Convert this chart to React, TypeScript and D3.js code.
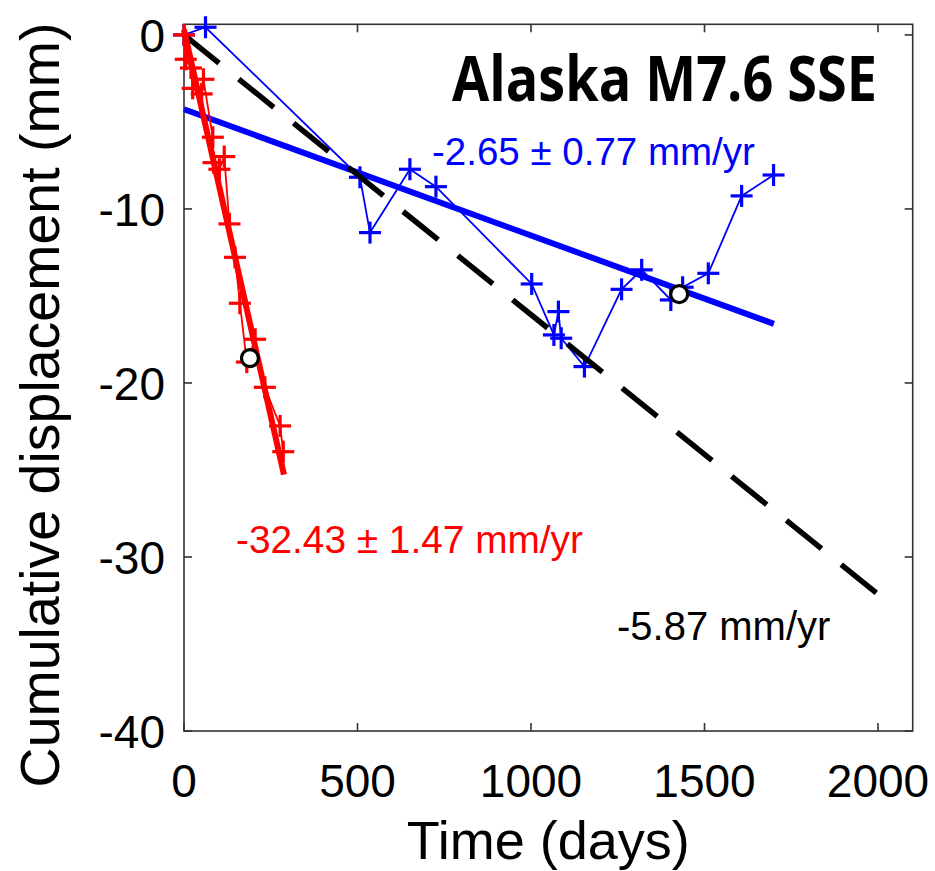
import React from "react";
import * as d3 from "d3";

// ---- data ----
const blueDays = [0, 62, 507, 536, 651, 726, 1002, 1066, 1079, 1087, 1154, 1261, 1319, 1403, 1437, 1511, 1607, 1699];
const blueDisp = [0, 0.44, -8.18, -11.36, -7.72, -8.72, -14.31, -17.24, -15.9, -17.43, -19.06, -14.62, -13.5, -15.23, -14.5, -13.7, -9.25, -8.05];

const redDays = [0, 5, 20, 25, 51, 56, 83, 85, 102, 116, 131, 147, 161, 181, 205, 233, 277, 286];
const redDisp = [0, -1.4, -1.9, -3.07, -3.39, -2.55, -5.88, -7.34, -7.72, -6.99, -10.86, -12.78, -15.42, -18.8, -17.49, -20.25, -22.47, -23.95];

const circleDays = [190, 1427];
const circleDisp = [-18.57, -14.9];

// fits: rate (mm/yr), intercept (mm), time span (days)
const fitNames = ["blue", "red", "black"];
const fitRates = [-2.65, -32.43, -5.87];
const fitIntercepts = [-4.27, 0.3, 0];
const fitEnds = [1700, 288, 1995];

const xTicks = [0, 500, 1000, 1500, 2000];
const yTicks = [0, -10, -20, -30, -40];

const title = "Alaska M7.6 SSE";
const blueLabel = "-2.65 ± 0.77 mm/yr";
const redLabel = "-32.43 ± 1.47 mm/yr";
const blackLabel = "-5.87 mm/yr";

export default function App() {
  const W = 935, H = 871;
  const left = 184, right = 912.7, top = 24.3, bottom = 731;
  const x = d3.scaleLinear().domain([0, 2100]).range([left, right]);
  const y = d3.scaleLinear().domain([-40, 0.61]).range([bottom, top]);

  const line = d3.line<[number, number]>().x(d => x(d[0])).y(d => y(d[1]));
  const blue = blueDays.map((d, i) => [d, blueDisp[i]] as [number, number]);
  const red = redDays.map((d, i) => [d, redDisp[i]] as [number, number]);
  const fitPts = (k: number) =>
    [
      [0, fitIntercepts[k]],
      [fitEnds[k], fitIntercepts[k] + (fitRates[k] / 365.25) * fitEnds[k]],
    ] as [number, number][];
  const fit = (k: number) => line(fitPts(k)) || "";

  // dash pattern so that the dashed line ends on a dash
  const bp = fitPts(2);
  const blackLen = Math.hypot(x(bp[1][0]) - x(bp[0][0]), y(bp[1][1]) - y(bp[0][1]));
  const dashLen = 45;
  const nDash = 12;
  const gapLen = (blackLen - dashLen) / nDash - dashLen;

  const cross = (pts: [number, number][], color: string, key: string) =>
    pts.map((p, i) => {
      const cx = x(p[0]), cy = y(p[1]), s = 11;
      return (
        <g key={key + i} stroke={color} strokeWidth={3.2}>
          <line x1={cx - s} x2={cx + s} y1={cy} y2={cy} />
          <line x1={cx} x2={cx} y1={cy - s} y2={cy + s} />
        </g>
      );
    });

  const axisColor = "#333";
  const font = "'Liberation Sans', Arial, Helvetica, sans-serif";
  const tl = 8;
  const titleScale = 0.88;

  return (
    <svg width={W} height={H} style={{ position: "absolute", left: 0, top: 0, background: "#fff" }}>
      {/* axes box */}
      <rect x={left} y={top} width={right - left} height={bottom - top} fill="none" stroke={axisColor} strokeWidth={1.6} />
      {xTicks.map(t => (
        <g key={"xt" + t} stroke={axisColor} strokeWidth={1.6}>
          <line x1={x(t)} x2={x(t)} y1={bottom} y2={bottom - tl} />
          <line x1={x(t)} x2={x(t)} y1={top} y2={top + tl} />
        </g>
      ))}
      {yTicks.map(t => (
        <g key={"yt" + t} stroke={axisColor} strokeWidth={1.6}>
          <line x1={left} x2={left + tl} y1={y(t)} y2={y(t)} />
          <line x1={right} x2={right - tl} y1={y(t)} y2={y(t)} />
        </g>
      ))}
      {xTicks.map(t => (
        <text key={"xl" + t} x={x(t)} y={797} textAnchor="middle" fontFamily={font} fontSize={46} fill="#000">
          {t}
        </text>
      ))}
      {yTicks.map(t => (
        <text key={"yl" + t} x={165} y={y(t) + 17} textAnchor="end" fontFamily={font} fontSize={46} fill="#000">
          {t}
        </text>
      ))}
      <text x={(left + right) / 2} y={859} textAnchor="middle" fontFamily={font} fontSize={54} fill="#000">
        Time (days)
      </text>
      <text transform={`translate(59,405) rotate(-90)`} textAnchor="middle" fontFamily={font} fontSize={55.5} fill="#000">
        Cumulative displacement (mm)
      </text>

      {/* blue series */}
      <path d={line(blue) || ""} fill="none" stroke="#0000ff" strokeWidth={1.8} />
      {cross(blue, "#0000ff", "b")}
      <path d={fit(0)} fill="none" stroke="#0000ff" strokeWidth={6} />

      {/* black dashed */}
      <path d={fit(2)} fill="none" stroke="#000" strokeWidth={5.5} strokeDasharray={`${dashLen} ${gapLen}`} />

      {/* red series */}
      <path d={line(red) || ""} fill="none" stroke="#ff0000" strokeWidth={1.8} />
      {cross(red, "#ff0000", "r")}
      <path d={fit(1)} fill="none" stroke="#ff0000" strokeWidth={6} />

      {/* circles */}
      {circleDays.map((d, i) => (
        <circle key={"c" + i} cx={x(d)} cy={y(circleDisp[i])} r={8.5} fill="#fff" stroke="#000" strokeWidth={3.2} />
      ))}

      {/* annotations */}
      <g transform={`translate(452,101) scale(${titleScale},1)`}>
        <text x={0} y={0} fontFamily="'Open Sans', sans-serif" fontWeight={700} fontSize={62} textLength={425 / titleScale} lengthAdjust="spacingAndGlyphs" fill="#000">
          {title}
        </text>
      </g>
      <text x={432} y={165} fontFamily={font} fontSize={38.5} fill="#0000ff">{blueLabel}</text>
      <text x={236} y={553} fontFamily={font} fontSize={38.8} fill="#ff0000">{redLabel}</text>
      <text x={617} y={640} fontFamily={font} fontSize={40} fill="#000">{blackLabel}</text>
    </svg>
  );
}
